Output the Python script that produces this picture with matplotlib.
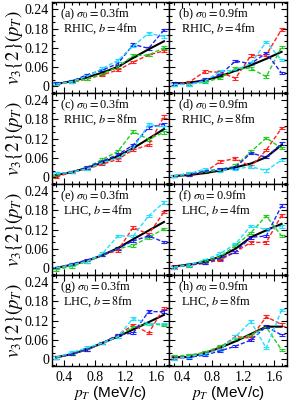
import numpy as np
import matplotlib
matplotlib.use("Agg")
import matplotlib.pyplot as plt
from matplotlib.ticker import MultipleLocator

plt.rcParams["font.family"] = "Liberation Serif"
plt.rcParams["mathtext.fontset"] = "stix"

# ── Data ──────────────────────────────────────────────────────────────────────
PT = [0.3, 0.5, 0.7, 0.9, 1.1, 1.3, 1.5, 1.7]

PANEL_LABELS = ["(a)", "(b)", "(c)", "(d)", "(e)", "(f)", "(g)", "(h)"]
SIGMAS = ["0.3", "0.9", "0.3", "0.9", "0.3", "0.9", "0.3", "0.9"]
SYSTEMS = ["RHIC", "RHIC", "RHIC", "RHIC", "LHC", "LHC", "LHC", "LHC"]
IMPACT = ["4", "4", "8", "8", "4", "4", "8", "8"]

BLACK = [
    [0.006, 0.015, 0.027, 0.042, 0.060, 0.088, 0.115, 0.140],
    [0.008, 0.010, 0.018, 0.030, 0.048, 0.065, 0.085, 0.107],
    [0.006, 0.015, 0.028, 0.045, 0.065, 0.090, 0.120, 0.150],
    [0.003, 0.006, 0.012, 0.020, 0.030, 0.042, 0.062, 0.100],
    [0.000, 0.010, 0.022, 0.040, 0.062, 0.090, 0.117, 0.144],
    [0.005, 0.010, 0.020, 0.035, 0.060, 0.096, 0.118, 0.138],
    [0.005, 0.015, 0.030, 0.050, 0.070, 0.092, 0.115, 0.138],
    [0.005, 0.006, 0.018, 0.035, 0.055, 0.078, 0.101, 0.101],
]
RED = [
    [0.006, 0.012, 0.022, 0.035, 0.050, 0.075, 0.097, 0.110],
    [0.005, 0.012, 0.045, 0.043, 0.024, 0.095, 0.097, 0.177],
    [0.000, 0.015, 0.025, 0.040, 0.055, 0.085, 0.100, 0.190],
    [0.003, 0.008, 0.015, 0.048, 0.058, 0.032, 0.084, 0.153],
    [0.000, 0.010, 0.020, 0.040, 0.055, 0.127, 0.105, 0.175],
    [0.005, 0.008, 0.015, 0.025, 0.050, 0.080, 0.080, 0.165],
    [0.005, 0.015, 0.030, 0.050, 0.075, 0.106, 0.081, 0.160],
    [0.005, 0.010, 0.020, 0.035, 0.070, 0.065, 0.132, 0.108],
]
GREEN = [
    [0.006, 0.012, 0.022, 0.038, 0.060, 0.095, 0.097, 0.120],
    [0.005, 0.006, 0.012, 0.025, 0.055, 0.055, 0.029, 0.122],
    [0.006, 0.015, 0.030, 0.055, 0.080, 0.142, 0.118, 0.140],
    [0.003, 0.012, 0.015, 0.022, 0.035, 0.079, 0.122, 0.090],
    [-0.006, 0.005, 0.020, 0.040, 0.060, 0.070, 0.096, 0.122],
    [0.002, 0.008, 0.020, 0.035, 0.070, 0.110, 0.163, 0.100],
    [0.005, 0.015, 0.030, 0.050, 0.070, 0.100, 0.110, 0.106],
    [0.008, 0.012, 0.020, 0.040, 0.060, 0.075, 0.100, 0.028],
]
BLUE = [
    [0.007, 0.015, 0.035, 0.050, 0.070, 0.130, 0.118, 0.175],
    [0.008, 0.005, 0.020, 0.035, 0.078, 0.070, 0.103, 0.040],
    [0.010, 0.015, 0.030, 0.050, 0.070, 0.100, 0.155, 0.165],
    [0.003, 0.008, 0.018, 0.025, 0.030, 0.075, 0.062, 0.105],
    [0.000, 0.012, 0.025, 0.040, 0.060, 0.085, 0.100, 0.081],
    [0.002, 0.010, 0.015, 0.030, 0.050, 0.096, 0.100, 0.195],
    [0.005, 0.015, 0.030, 0.050, 0.075, 0.081, 0.148, 0.148],
    [0.002, 0.005, 0.012, 0.025, 0.040, 0.059, 0.101, 0.075],
]
CYAN = [
    [0.006, 0.014, 0.030, 0.055, 0.080, 0.125, 0.165, 0.155],
    [0.005, 0.005, 0.015, 0.045, 0.050, 0.070, 0.138, 0.081],
    [0.010, 0.015, 0.025, 0.045, 0.060, 0.090, 0.165, 0.155],
    [0.003, 0.010, 0.025, 0.020, 0.025, 0.032, 0.020, 0.053],
    [0.000, 0.010, 0.020, 0.045, 0.100, 0.100, 0.163, 0.205],
    [0.002, 0.010, 0.025, 0.045, 0.075, 0.132, 0.120, 0.130],
    [0.005, 0.020, 0.035, 0.050, 0.070, 0.127, 0.110, 0.110],
    [0.000, 0.008, 0.015, 0.030, 0.070, 0.117, 0.034, 0.153],
]
ERR = 0.004

SERIES = [(RED, "#ff2020"), (GREEN, "#20d020"), (BLUE, "#2020ff"), (CYAN, "#20e0ff")]

# ── Plot ──────────────────────────────────────────────────────────────────────
fig, axes = plt.subplots(4, 2, figsize=(2.89, 4.03), dpi=100, sharex=True, sharey=True)
fig.subplots_adjust(left=0.179, right=0.993, top=0.995, bottom=0.092, wspace=0, hspace=0)

for i, ax in enumerate(axes.flat):
    for vals, col in SERIES:
        ax.errorbar(PT, vals[i], yerr=ERR, color=col, ls="--", lw=1.0,
                    capsize=2, elinewidth=0.8, capthick=0.8, dashes=(3, 1.5))
    ax.plot(PT, BLACK[i], color="black", lw=1.5)

    ax.text(0.07, 0.835, f"{PANEL_LABELS[i]} $\\sigma_0$$=$0.{SIGMAS[i][-1]}fm",
            transform=ax.transAxes, fontsize=8.8, va="baseline", ha="left")
    ax.text(0.10, 0.675, f"{SYSTEMS[i]}, $b$$=$${IMPACT[i]}$fm",
            transform=ax.transAxes, fontsize=8.8, va="baseline", ha="left")

    ax.set_xlim(0.24, 1.77)
    ax.set_ylim(-0.022, 0.263)
    ax.xaxis.set_major_locator(MultipleLocator(0.4))
    ax.xaxis.set_minor_locator(MultipleLocator(0.1))
    ax.yaxis.set_major_locator(MultipleLocator(0.06))
    ax.yaxis.set_minor_locator(MultipleLocator(0.02))
    ax.tick_params(which="both", direction="in", top=True, right=True, labelsize=10,
                   width=0.8)
    ax.tick_params(axis="y", pad=2)
    ax.tick_params(axis="x", pad=4)
    ax.tick_params(which="major", length=4)
    ax.tick_params(which="minor", length=2.2)
    for s in ax.spines.values():
        s.set_linewidth(1.0)
    ax.set_yticks([0, 0.06, 0.12, 0.18, 0.24])
    ax.set_yticklabels(["0", "0.06", "0.12", "0.18", "0.24"])
    if i % 2 == 0:
        ax.set_ylabel(r"$v_3\{2\}(p_T)$", fontsize=13.5, labelpad=0)
    if i >= 6:
        ax.set_xlabel(r"$p_T$ (MeV/c)", fontsize=11, family="Liberation Sans", labelpad=0)

fig.savefig("out.png", dpi=100)
